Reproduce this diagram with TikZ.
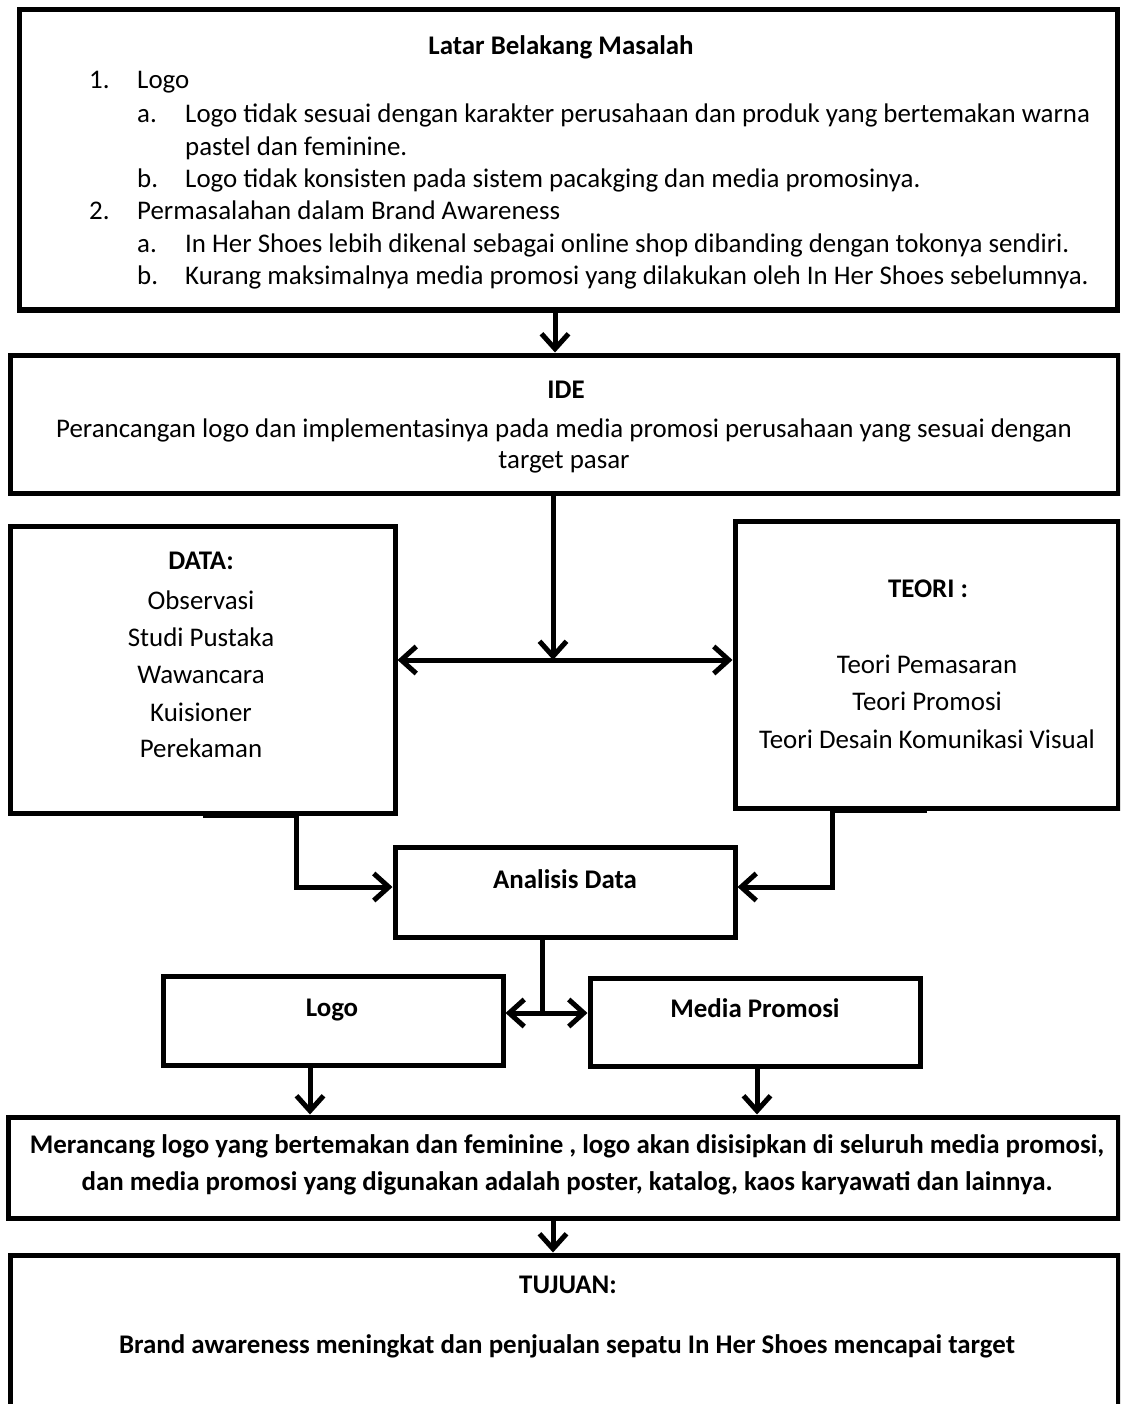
\documentclass[tikz,border=0pt]{standalone}
\usepackage{fontspec}
\setmainfont{Carlito}
\usetikzlibrary{arrows.meta}
\begin{document}
\begin{tikzpicture}[x=1pt,y=-1pt,
  box/.style={draw, line width=5pt, inner sep=0pt},
  txt/.style={font=\fontsize{26.9}{32.4}\selectfont, inner sep=0pt, anchor=base},
  txl/.style={txt, anchor=base west},
  bold/.style={font=\fontsize{26.9}{32.4}\selectfont\bfseries},
  barb/.tip={Straight Barb[length=15pt,width=27pt]},
  conn/.style={line width=5pt, -barb},
  dconn/.style={line width=5pt, barb-barb},
  link/.style={line width=5pt}
]
\fill[white] (0,0) rectangle (1120,1404);
\useasboundingbox (0,0) rectangle (1120,1404);
\clip (0,0) rectangle (1120,1404);

% boxes
\node[box, minimum width=1098pt, minimum height=300pt] (latar) at (568,160) {};
\node[box, minimum width=1108pt, minimum height=138pt] (ide) at (564,424) {};
\node[box, minimum width=385pt, minimum height=287pt] (data) at (202.5,669.5) {};
\node[box, minimum width=383pt, minimum height=287pt] (teori) at (926.5,664.5) {};
\node[box, minimum width=340pt, minimum height=90pt] (analisis) at (565,892) {};
\node[box, minimum width=340pt, minimum height=89pt] (logo) at (333,1020.5) {};
\node[box, minimum width=330pt, minimum height=88pt] (media) at (755,1022) {};
\node[box, minimum width=1110pt, minimum height=101pt] (merancang) at (563,1167.5) {};
\node[box, minimum width=1108pt, minimum height=245pt] (tujuan) at (564,1377.5) {};

% texts: Latar Belakang
\node[txt, bold] (latarT) at (561,55) {Latar Belakang Masalah};
\node[txl] (n1) at (89,89) {1.};
\node[txl] (n1t) at (137,89) {Logo};
\node[txl] (a1) at (137,123) {a.};
\node[txl] (a1t) at (185,123) {Logo tidak sesuai dengan karakter perusahaan dan produk yang bertemakan warna};
\node[txl] (a1u) at (185,156) {pastel dan feminine.};
\node[txl] (b1) at (137,188) {b.};
\node[txl] (b1t) at (185,188) {Logo tidak konsisten pada sistem pacakging dan media promosinya.};
\node[txl] (n2) at (89,220) {2.};
\node[txl] (n2t) at (137,220) {Permasalahan dalam Brand Awareness};
\node[txl] (a2) at (137,253) {a.};
\node[txl] (a2t) at (185,253) {In Her Shoes lebih dikenal sebagai online shop dibanding dengan tokonya sendiri.};
\node[txl] (b2) at (137,285) {b.};
\node[txl] (b2t) at (185,285) {Kurang maksimalnya media promosi yang dilakukan oleh In Her Shoes sebelumnya.};

% IDE
\node[txt, bold] (ideT) at (566,398) {IDE};
\node[txt] (ide1) at (564,437) {Perancangan logo dan implementasinya pada media promosi perusahaan yang sesuai dengan};
\node[txt] (ide2) at (564,468) {target pasar};

% DATA
\node[txt, bold] (dataT) at (201,569) {DATA:};
\node[txt] (d1) at (201,609) {Observasi};
\node[txt] (d2) at (201,646) {Studi Pustaka};
\node[txt] (d3) at (201,683) {Wawancara};
\node[txt] (d4) at (201,721) {Kuisioner};
\node[txt] (d5) at (201,757) {Perekaman};

% TEORI
\node[txt, bold] (teoriT) at (928,597) {TEORI :};
\node[txt] (t1) at (927,673) {Teori Pemasaran};
\node[txt] (t2) at (927,710) {Teori Promosi};
\node[txt] (t3) at (927,748) {Teori Desain Komunikasi Visual};

% others
\node[txt, bold] (analisisT) at (565,888) {Analisis Data};
\node[txt, bold] (logoT) at (332,1016) {Logo};
\node[txt, bold] (mediaT) at (755,1017) {Media Promosi};
\node[txt, bold] (m1) at (567,1153) {Merancang logo yang bertemakan dan feminine , logo akan disisipkan di seluruh media promosi,};
\node[txt, bold] (m2) at (567,1190) {dan media promosi yang digunakan adalah poster, katalog, kaos karyawati dan lainnya.};
\node[txt, bold] (tujT) at (568,1293) {TUJUAN:};
\node[txt, bold] (tuj1) at (567,1353) {Brand awareness meningkat dan penjualan sepatu In Her Shoes mencapai target};

% connectors
\coordinate (xa) at (555,0);
\draw[conn] (xa |- latar.south) -- (xa |- ide.north);
\coordinate (j1) at (553,660);
\draw[conn] (j1 |- ide.south) -- (j1);
\draw[dconn] (data.east |- j1) -- (teori.west |- j1);
\coordinate (dj) at (296,887);
\draw[conn] (data.south) -- (data.south -| dj) -- (dj) -- (analisis.west |- dj);
\coordinate (tj) at (832,887);
\draw[conn] (teori.south) -- (teori.south -| tj) -- (tj) -- (analisis.east |- tj);
\coordinate (j2) at (542,1013);
\draw[link] (j2 |- analisis.south) -- (j2);
\draw[dconn] (logo.east |- j2) -- (media.west |- j2);
\coordinate (xl) at (310,0);
\draw[conn] (xl |- logo.south) -- (xl |- merancang.north);
\coordinate (xm) at (757,0);
\draw[conn] (xm |- media.south) -- (xm |- merancang.north);
\coordinate (xt) at (553,0);
\draw[conn] (xt |- merancang.south) -- (xt |- tujuan.north);
\end{tikzpicture}
\end{document}
